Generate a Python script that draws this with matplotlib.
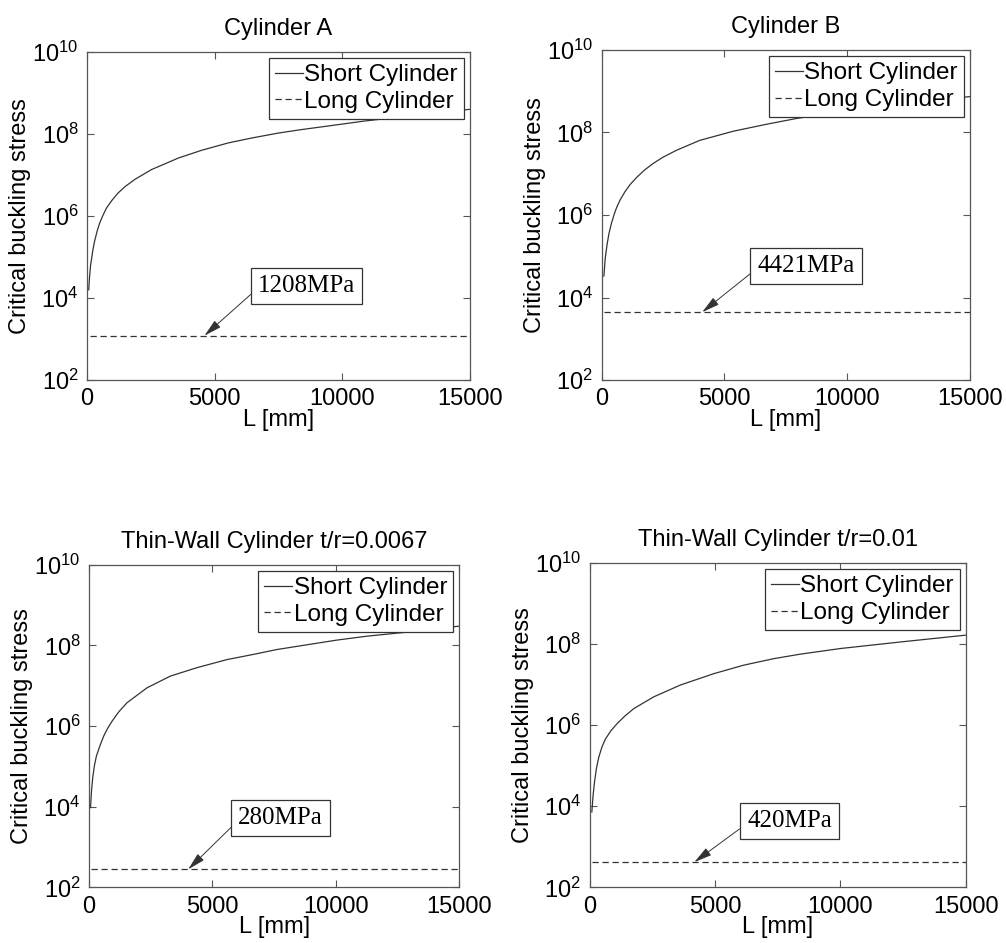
import matplotlib
matplotlib.use("Agg")
import matplotlib.pyplot as plt

plt.rcParams['font.family'] = ['Liberation Sans', 'DejaVu Sans']

# values (L in mm, stress on a log axis)
titles = ["Cylinder A", "Cylinder B",
          "Thin-Wall Cylinder t/r=0.0067", "Thin-Wall Cylinder t/r=0.01"]

L_a = [67, 100, 140, 172, 235, 302, 400, 498, 620, 760, 950, 1216, 1500, 1870,
       2525, 3570, 4485, 5530, 6450, 7490, 8340, 10000, 10820, 12500, 15000]
logS_a = [4.20, 4.52, 4.80, 4.93, 5.19, 5.40, 5.64, 5.83, 6.01, 6.19, 6.36, 6.56, 6.72, 6.89,
          7.13, 7.41, 7.60, 7.78, 7.90, 8.02, 8.10, 8.24, 8.31, 8.43, 8.60]

L_b = [94, 150, 228, 300, 407, 520, 611, 760, 949, 1150, 1426, 1750, 2102, 2500,
       3055, 4004, 5360, 6721, 7943, 10000, 12500, 15000]
logS_b = [4.52, 4.96, 5.30, 5.55, 5.81, 6.03, 6.18, 6.37, 6.56, 6.73, 6.91, 7.09, 7.25, 7.40,
          7.57, 7.81, 8.03, 8.20, 8.34, 8.53, 8.71, 8.87]

L_c = [60, 100, 150, 215, 300, 458, 600, 750, 931, 1200, 1539, 2349, 3293, 4374,
       5589, 6670, 7614, 10000, 11250, 12870, 15000]
logS_c = [3.98, 4.39, 4.72, 5.01, 5.26, 5.54, 5.76, 5.94, 6.12, 6.35, 6.58, 6.95, 7.24, 7.45,
          7.65, 7.78, 7.90, 8.13, 8.23, 8.33, 8.48]

L_d = [93, 140, 199, 280, 374, 500, 637, 850, 1103, 1400, 1768, 2565, 3624, 4954,
       6149, 7344, 8390, 10000, 12370, 15000]
logS_d = [3.86, 4.25, 4.60, 4.95, 5.22, 5.47, 5.66, 5.86, 6.04, 6.22, 6.41, 6.70, 6.99, 7.27,
          7.48, 7.64, 7.75, 7.89, 8.05, 8.22]

long_stress = [1208, 4421, 280, 420]
labels = ["1208MPa", "4421MPa", "280MPa", "420MPa"]
L_long = [100, 15000]

# arrow tip on the dashed line, text box anchor (L, log stress)
tip_L = [4600, 4100, 4020, 4180]
box_L = [6700, 6350, 6050, 6280]
box_logS = [4.30, 4.77, 3.72, 3.63]

short_L = [L_a, L_b, L_c, L_d]
short_logS = [logS_a, logS_b, logS_c, logS_d]

positions = [
    [0.0865, 0.597, 0.3807, 0.348],
    [0.598, 0.597, 0.366, 0.35],
    [0.0885, 0.059, 0.368, 0.342],
    [0.586, 0.059, 0.374, 0.344],
]

fig = plt.figure(figsize=(10.06, 9.43), dpi=100)
lc = '#333333'

for i in range(4):
    ax = fig.add_axes(positions[i])
    ys = [10 ** v for v in short_logS[i]]
    ax.plot(short_L[i], ys, color=lc, lw=0.9, label="Short Cylinder")
    ax.plot(L_long, [long_stress[i]] * 2, color=lc, lw=0.9,
            dashes=(5, 3), label="Long Cylinder")
    ax.set_yscale('log')
    ax.set_xlim(0, 15000)
    ax.set_ylim(1e2, 1e10)
    ax.set_xticks([0, 5000, 10000, 15000])
    ax.set_yticks([1e2, 1e4, 1e6, 1e8, 1e10])
    ax.minorticks_off()
    ax.tick_params(direction='in', top=True, right=True, length=5,
                   width=0.8, color='#555555', labelsize=17, pad=6)
    for s in ax.spines.values():
        s.set_color('#555555')
        s.set_linewidth(0.9)
    ax.set_xlabel("L [mm]", fontsize=17, labelpad=-1)
    ax.set_ylabel("Critical buckling stress", fontsize=17, labelpad=1)
    ax.set_title(titles[i], fontsize=17, pad=12)
    leg = ax.legend(loc='upper right', fontsize=17.5, handlelength=1.15,
                    handletextpad=0.05, borderpad=0.25, labelspacing=0.2,
                    borderaxespad=0.25, fancybox=False, framealpha=1)
    leg.get_frame().set_edgecolor('#333333')
    leg.get_frame().set_linewidth(0.9)
    ax.annotate(labels[i], xy=(tip_L[i], long_stress[i]),
                xytext=(box_L[i], 10 ** box_logS[i]),
                ha='left', va='center', fontsize=18,
                family=['Liberation Serif', 'DejaVu Serif'],
                bbox=dict(boxstyle='square,pad=0.28', fc='white', ec='#333333', lw=0.9),
                arrowprops=dict(arrowstyle='-|>,head_length=0.6,head_width=0.15',
                                color='#333333', lw=0.7, relpos=(0, 0.4),
                                shrinkA=0, shrinkB=0))

fig.savefig("out.png", dpi=100)
